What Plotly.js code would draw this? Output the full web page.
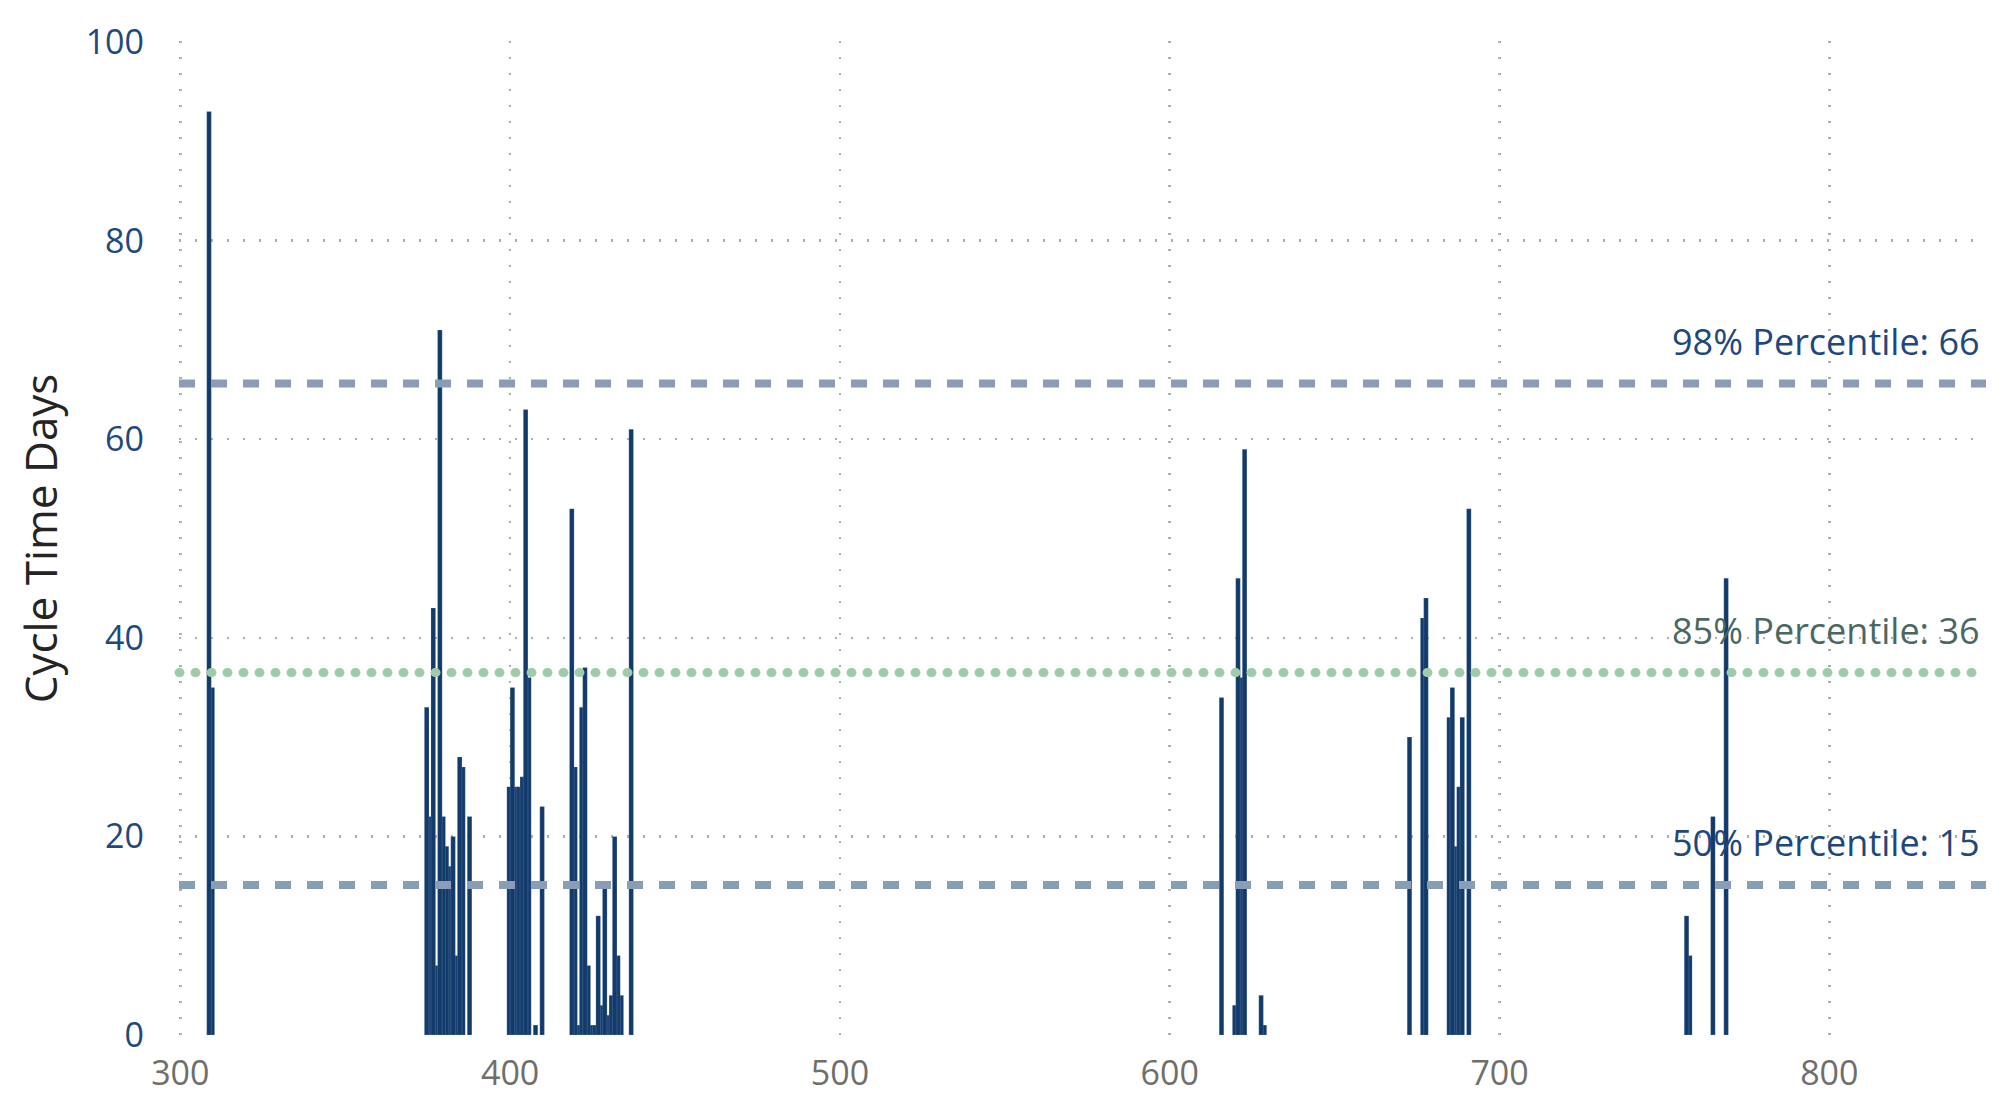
<!DOCTYPE html>
<html><head><meta charset="utf-8">
<script src="https://cdn.plot.ly/plotly-3.0.1.min.js"></script>
<style>
html,body{margin:0;padding:0;background:#fff;}
#chart{width:2016px;height:1106px;}
</style>
</head><body><div id="chart"></div>
<script>
// Day index of each completed item and its cycle time (days)
const days = [308,309,
  374,375,376,377,378,379,380,381,382,383,384,385,387,
  399,400,401,402,403,404,405,407,409,
  418,419,420,421,422,423,424,425,426,427,428,429,430,431,432,433,436,
  615,619,620,621,622,627,628,
  672,676,677,684,685,686,687,688,690,
  756,757,764,768];
const cycleTimeDays = [93,35,
  33,22,43,7,71,22,19,17,20,8,28,27,22,
  25,35,25,25,26,63,36,1,23,
  53,27,1,33,37,7,1,1,12,3,15,2,4,20,8,4,61,
  34,3,46,36,59,4,1,
  30,42,44,32,35,19,25,32,53,
  12,8,22,46];

const percentileLevels = [65.6, 36.5, 15.1];
const percentileLabels = ["98% Percentile: 66", "85% Percentile: 36", "50% Percentile: 15"];
const percentileColors = ["rgb(138,157,182)", "rgb(158,204,170)", "rgb(138,157,182)"];
const percentileTextColors = ["rgb(30,72,125)", "rgb(74,104,98)", "rgb(30,72,125)"];
const percentileDash = ["16px,16px", "1px,15px", "16px,16px"];

const xTickVals = [300,400,500,600,700,800];
const yTickVals = [0,20,40,60,80,100];
const yAxisTitle = "Cycle Time Days";

const FONT = "'Open Sans', 'Noto Sans', sans-serif";

// taller bars are painted on top of shorter neighbours
const order = days.map((d,i)=>i).sort((a,b)=> (cycleTimeDays[a]-cycleTimeDays[b]) || (days[a]-days[b]));

const barTrace = {
  type: 'bar',
  x: order.map(i=>days[i]),
  y: order.map(i=>cycleTimeDays[i]),
  width: 1.4,
  offset: 0,
  marker: {color: 'rgb(18,59,108)', line: {color: 'rgba(255,255,255,0.6)', width: 0.25}},
  hoverinfo: 'skip',
  showlegend: false
};

const shapes = percentileLevels.map((lv,i)=>({
  type: 'line', xref: 'paper', yref: 'y', x0: 0, x1: 1, y0: lv, y1: lv,
  line: {color: percentileColors[i], width: i===1 ? 9 : 8, dash: percentileDash[i]},
  layer: 'above'
}));

const annotations = percentileLevels.map((lv,i)=>({
  xref: 'paper', yref: 'y', x: 1, y: lv, xanchor: 'right', yanchor: 'bottom',
  xshift: -4, yshift: 16, showarrow: false,
  text: percentileLabels[i],
  font: {family: FONT, size: 36, color: percentileTextColors[i]}
}));

const gridStyle = {showgrid: true, gridcolor: 'rgb(175,175,175)', gridwidth: 2.5, griddash: '2px,14px'};

const layout = {
  width: 2016, height: 1106,
  margin: {l: 179, r: 30, t: 41, b: 70, pad: 0},
  paper_bgcolor: '#ffffff', plot_bgcolor: '#ffffff',
  barmode: 'overlay',
  showlegend: false,
  xaxis: Object.assign({
    range: [299.6, 847.5], tickvals: xTickVals,
    zeroline: false, showline: false, ticks: '',
    ticklabelstandoff: 14,
    tickfont: {family: FONT, size: 34, color: 'rgb(112,110,107)'},
    fixedrange: true
  }, gridStyle),
  yaxis: Object.assign({
    range: [-0.1, 100.1], tickvals: yTickVals,
    zeroline: false, showline: false, ticks: '',
    ticklabelstandoff: 34,
    tickfont: {family: FONT, size: 34, color: 'rgb(31,73,125)'},
    title: {text: yAxisTitle, standoff: 14, font: {family: FONT, size: 44, color: '#252423'}},
    fixedrange: true
  }, gridStyle),
  shapes: shapes,
  annotations: annotations
};

Plotly.newPlot('chart', [barTrace], layout, {staticPlot: true, displayModeBar: false}).then(gd=>{
  // round caps turn the green dotted line into circular dots
  gd.querySelectorAll('.shapelayer path').forEach(p=>{
    const da = (p.style.strokeDasharray || '').replace(/\s/g,'');
    if (da.indexOf('1px,15px') === 0) p.style.strokeLinecap = 'round';
  });
});
</script>
</body></html>
